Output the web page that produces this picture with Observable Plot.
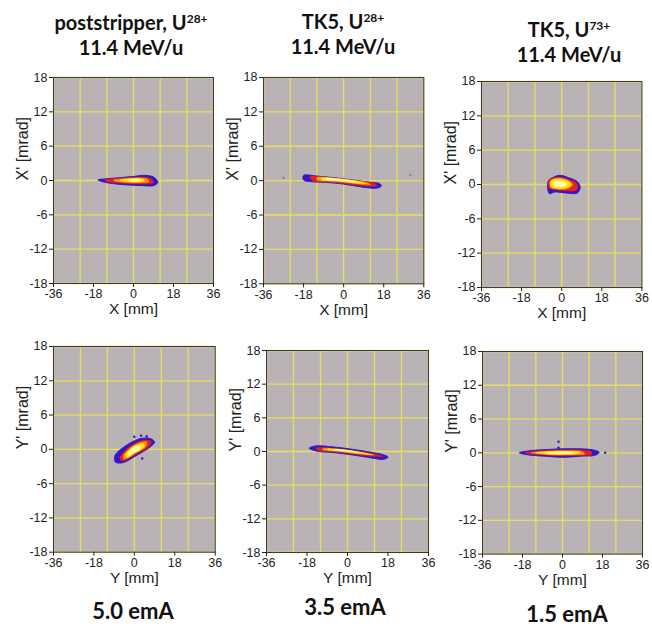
<!DOCTYPE html>
<html><head><meta charset="utf-8">
<script src="https://cdn.jsdelivr.net/npm/d3@7"></script>
<script src="https://cdn.jsdelivr.net/npm/@observablehq/plot@0.6"></script>
<style>
html,body{margin:0;padding:0;background:#fff;}
#root{position:relative;width:652px;height:631px;overflow:hidden;background:#fff;}
.panel{position:absolute;}
.ttl{position:absolute;transform:translateX(-50%);text-align:center;white-space:nowrap;font-family:Lato,"Open Sans",sans-serif;font-weight:700;font-size:20px;line-height:25px;color:#111;}
.ttl sup{font-size:12px;line-height:0;vertical-align:7px;}
.cur{position:absolute;transform:translateX(-50%);white-space:nowrap;font-family:Lato,"Open Sans",sans-serif;font-weight:700;font-size:22px;color:#111;}
</style></head>
<body><div id="root"></div>
<script>
// ---- axes ----
const xTicks = [-36, -18, 0, 18, 36];
const yTicks = [-18, -12, -6, 0, 6, 12, 18];
const xGrid = [-36, -24, -12, 0, 12, 24, 36];
const yGrid = [-18, -12, -6, 0, 6, 12, 18];
const levelColors = ["#3515c8", "#e3211d", "#f39a12", "#ffe41c", "#ffffb0"];

// ---- titles ----
const titleIons = ["poststripper, U", "TK5, U", "TK5, U"];
const titleCharges = ["28+", "28+", "73+"];
const titleEnergy = ["11.4 MeV/u", "11.4 MeV/u", "11.4 MeV/u"];
const currents = ["5.0 emA", "3.5 emA", "1.5 emA"];
const xLabels = ["X [mm]", "Y [mm]"];
const yLabels = ["X' [mrad]", "Y' [mrad]"];

// ---- beam contours (mm, mrad), outer -> inner: blue, red, orange, yellow, core ----
const topLeftLevels = [
  [[-16,0.1],[-12,0.3],[-6,0.5],[0,0.7],[5,0.9],[9,0.6],[11,-0.3],[9,-0.9],[4,-0.9],[-2,-0.8],[-8,-0.6],[-13,-0.3]],
  [[-13,0.1],[-8,0.35],[-2,0.5],[4,0.6],[8,0.3],[9,-0.4],[4,-0.6],[-2,-0.55],[-8,-0.4],[-12,-0.2]],
  [[-9,0.05],[-4,0.35],[2,0.45],[6,0.3],[7,-0.2],[3,-0.4],[-3,-0.35],[-8,-0.15]],
  [[-6,0.05],[-2,0.3],[3,0.35],[5,0.05],[3,-0.25],[-2,-0.25]],
  [[-2,0.05],[1,0.2],[3,0.05],[1,-0.15]]
];
const topMidLevels = [
  [[-18,0.9],[-12,0.8],[-4,0.5],[4,0.1],[12,-0.3],[16,-0.5],[17,-0.9],[15,-1.3],[8,-1.1],[0,-0.6],[-8,-0.3],[-14,-0.2],[-18,0.1]],
  [[-15,0.7],[-8,0.6],[0,0.3],[8,-0.1],[14,-0.5],[15,-0.9],[8,-0.9],[0,-0.5],[-8,-0.2],[-14,0]],
  [[-12,0.55],[-4,0.4],[4,0.05],[11,-0.4],[12,-0.7],[4,-0.45],[-4,-0.15],[-12,0.1]],
  [[-10,0.45],[-2,0.3],[6,-0.1],[10,-0.45],[6,-0.45],[-2,-0.1],[-10,0.15]],
  [[-8,0.35],[0,0.2],[6,-0.2],[0,-0.05],[-8,0.2]]
];
const topRightLevels = [
  [[-6,0.6],[-5,1.0],[-1,1.6],[3,1.2],[7,0.5],[8.3,-0.5],[7,-1.5],[2,-1.5],[-3,-1.3],[-5.5,-1.6],[-6.3,-0.5]],
  [[-5.5,0.9],[-1,1.3],[3,0.9],[6.5,0.3],[7.3,-0.6],[6,-1.1],[2,-1.1],[-3,-0.9],[-5.7,-0.6]],
  [[-5,0.7],[-1,1.1],[3,0.7],[5,0],[3,-0.7],[-2,-0.8],[-5,-0.5]],
  [[-4.8,0.6],[-1,1],[2.5,0.6],[4,0],[2,-0.6],[-2,-0.7],[-4.7,-0.4]],
  [[-3.5,0.4],[-1,0.6],[1.5,0.3],[2,-0.1],[0,-0.4],[-3,-0.3]]
];
const botLeftLevels = [
  [[-8.5,-2.2],[-8.5,-1.0],[-5,0.3],[-1,1.3],[3,1.9],[7,1.9],[9,1.3],[7,0.4],[3,-0.6],[0,-1.3],[-3,-2.0],[-6,-2.4]],
  [[-6.5,-1.6],[-4,-0.2],[0,1.0],[4,1.6],[7.5,1.4],[6,0.3],[2,-0.6],[-2,-1.5],[-5,-2]],
  [[-5,-1.2],[-2,0.2],[2,1.1],[5.5,1.3],[5,0.4],[1,-0.5],[-2,-1.3],[-4.5,-1.7]],
  [[-4,-1.0],[-1.5,0.2],[2,0.9],[4.5,0.9],[3.5,0.1],[0,-0.7],[-3,-1.4]],
  [[-2.5,-0.6],[0,0.4],[2.5,0.6],[2,-0.1],[-0.5,-0.6],[-2.5,-1.0]]
];
const botMidLevels = [
  [[-17,0.6],[-14,1.0],[-6,0.8],[2,0.4],[10,-0.1],[16,-0.6],[18,-1.0],[16,-1.4],[10,-1.1],[2,-0.6],[-6,-0.2],[-14,0.1]],
  [[-14,0.6],[-6,0.55],[2,0.2],[10,-0.3],[16,-0.9],[10,-0.85],[2,-0.45],[-6,-0.05],[-13,0.2]],
  [[-11,0.5],[-4,0.4],[4,0.0],[12,-0.6],[4,-0.35],[-4,0.05],[-11,0.3]],
  [[-9,0.45],[-2,0.3],[6,-0.15],[11,-0.6],[6,-0.4],[-2,0],[-9,0.3]],
  [[-6,0.35],[0,0.2],[5,-0.15],[0,0.05],[-6,0.25]]
];
const botRightLevels = [
  [[-19.5,0],[-14,0.4],[-6,0.6],[0,0.7],[8,0.7],[14,0.5],[16.5,0.1],[15,-0.4],[8,-0.6],[0,-0.8],[-8,-0.6],[-15,-0.4]],
  [[-17,0],[-10,0.35],[0,0.5],[8,0.5],[13,0.2],[13,-0.3],[6,-0.45],[-2,-0.55],[-10,-0.35],[-16,-0.15]],
  [[-14,0.0],[-6,0.3],[2,0.35],[9,0.2],[10,-0.2],[2,-0.35],[-6,-0.3]],
  [[-12,0.0],[-5,0.25],[2,0.3],[8,0.1],[6,-0.2],[-2,-0.3],[-8,-0.2]],
  [[-7,0],[-2,0.15],[3,0.15],[5,0],[0,-0.15],[-5,-0.1]]
];
// isolated pixels
const topMidSpecks = [[-27,0.5,"#888"],[30,1.0,"#888"]];
const botLeftSpecks = [[0,2.2,"#3515c8"],[3,2.4,"#3515c8"],[5.5,2.3,"#3515c8"],[3.5,-1.6,"#3515c8"]];
const botRightSpecks = [[-1.8,1.95,"#3515c8"],[-1.8,0.9,"#3515c8"],[19.2,0,"#3515c8"]];

// layout of each panel: plot-area left, top, width, height (px)
const panels = [
  {levels: topLeftLevels, specks: [], xl: 0, left: 52.7, top: 77, w: 160, h: 206},
  {levels: topMidLevels, specks: topMidSpecks, xl: 0, left: 262.7, top: 76.7, w: 160.3, h: 206.3},
  {levels: topRightLevels, specks: [], xl: 0, left: 481.3, top: 80.7, w: 160.4, h: 206},
  {levels: botLeftLevels, specks: botLeftSpecks, xl: 1, left: 53.3, top: 346, w: 161.7, h: 205.7},
  {levels: botMidLevels, specks: [], xl: 1, left: 266, top: 350, w: 162, h: 202},
  {levels: botRightLevels, specks: botRightSpecks, xl: 1, left: 482, top: 350.7, w: 160, h: 202.6}
];

const root = document.getElementById("root");
const ML = 42, MR = 14, MT = 10, MB = 38;

panels.forEach(p => {
  const marks = [
    Plot.frame({fill: "#bab3b6"}),
    Plot.ruleX(xGrid, {stroke: "#e8de5c", strokeWidth: 1.3}),
    Plot.ruleY(yGrid, {stroke: "#e8de5c", strokeWidth: 1.3}),
    ...p.levels.map((lv, i) => Plot.line(lv, {
      x: d => d[0], y: d => d[1], fill: levelColors[i], stroke: levelColors[i],
      strokeWidth: i === 0 ? 1.0 : 0.4, curve: "catmull-rom-closed", clip: true
    })),
    Plot.dot(p.specks, {x: d => d[0], y: d => d[1], fill: d => d[2], r: 1.2}),
    Plot.frame({stroke: "#3a3a3a", strokeWidth: 1}),
    Plot.axisX({ticks: xTicks, tickSize: 4, tickPadding: 2, label: null, fontSize: 12.5, tickFormat: d => String(d)}),
    Plot.axisY({ticks: yTicks, tickSize: 4, tickPadding: 2, label: null, fontSize: 12.5, tickFormat: d => String(d)}),
    Plot.text([xLabels[p.xl]], {text: d => d, frameAnchor: "bottom", dy: 26, fontSize: 15.5, lineAnchor: "middle"}),
    Plot.text([yLabels[p.xl]], {text: d => d, frameAnchor: "left", dx: -31, rotate: -90, fontSize: 16, lineAnchor: "middle"})
  ];
  const chart = Plot.plot({
    width: p.w + ML + MR, height: p.h + MT + MB,
    marginLeft: ML, marginRight: MR, marginTop: MT, marginBottom: MB,
    style: {fontFamily: "'Liberation Sans', Arial, sans-serif", fontSize: "12.5px", color: "#222", background: "transparent", overflow: "visible"},
    x: {domain: [-36, 36]},
    y: {domain: [-18, 18]},
    marks
  });
  chart.classList.add("panel");
  chart.style.left = (p.left - ML) + "px";
  chart.style.top = (p.top - MT) + "px";
  root.appendChild(chart);
});

// titles
const titlePos = [[131, 10], [343, 9], [569, 17]];
titlePos.forEach(([cx, ty], i) => {
  const d = document.createElement("div");
  d.className = "ttl";
  d.style.left = cx + "px";
  d.style.top = ty + "px";
  d.innerHTML = `${titleIons[i]}<sup>${titleCharges[i]}</sup><br>${titleEnergy[i]}`;
  root.appendChild(d);
});
const curPos = [[133, 597], [345, 593], [567, 600]];
curPos.forEach(([cx, ty], i) => {
  const d = document.createElement("div");
  d.className = "cur";
  d.style.left = cx + "px";
  d.style.top = ty + "px";
  d.textContent = currents[i];
  root.appendChild(d);
});
</script></body></html>
